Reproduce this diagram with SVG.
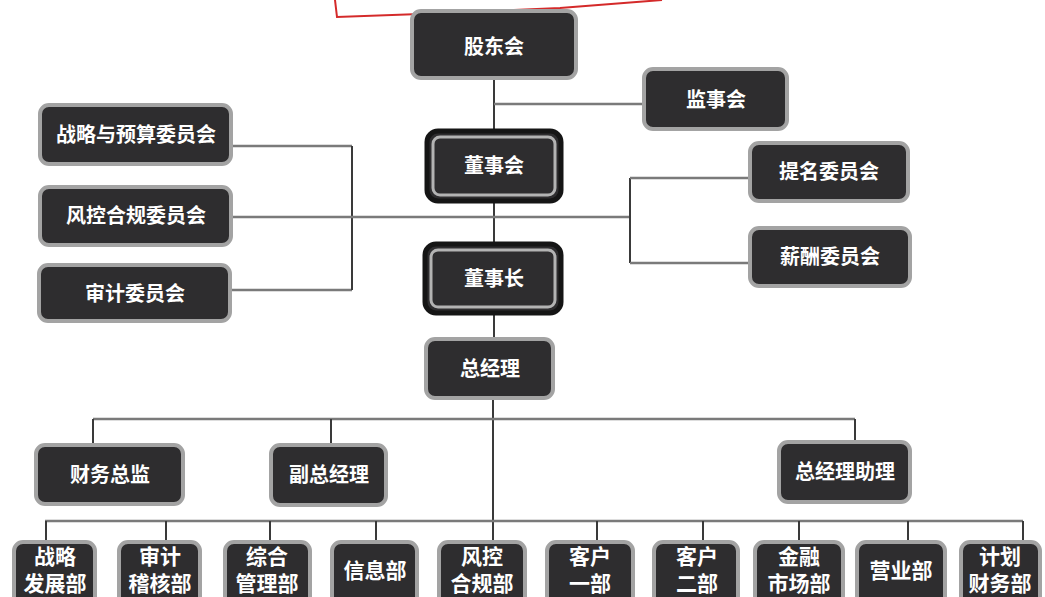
<svg xmlns="http://www.w3.org/2000/svg" width="1045" height="597" viewBox="0 0 1045 597">
<style>
.box{fill:#2e2d2f;stroke:#a3a3a3;stroke-width:4}
.outer{fill:#2e2d2f;stroke:#151515;stroke-width:5}
.inner{fill:#2e2d2f;stroke:#b3b3b3;stroke-width:3}
.t{fill:#ffffff;font-family:"Liberation Sans","Noto Sans CJK SC",sans-serif;font-weight:bold;font-size:20px;text-anchor:middle}
.s{fill:#ffffff;font-family:"Liberation Sans","Noto Sans CJK SC",sans-serif;font-weight:bold;font-size:21px;text-anchor:middle}
.h{stroke:#7a7a7a;stroke-width:2.5;fill:none}
.v{stroke:#3a3a3a;stroke-width:2;fill:none}
</style>
<path d="M335 0 L337 17 L420 14 L560 8 L662 0" fill="none" stroke="#d42a2a" stroke-width="2"/>
<g id="connectors">
<path class="v" d="M494 80 V129 M494 203 V242 M494 315 V337 M493 400 V540"/>
<path class="h" d="M494 104 H642"/>
<path class="h" d="M233 146 H352 M232 290 H352"/>
<path class="v" d="M352 146 V290"/>
<path class="h" d="M233 217 H630"/>
<path class="v" d="M630 178 V263"/>
<path class="h" d="M630 178 H748 M630 263 H748"/>
<path class="h" d="M93 419 H855"/>
<path class="v" d="M93 419 V443 M331 419 V443 M855 419 V440"/>
<path class="h" d="M45 521 H1023"/>
<path class="v" d="M46 521 V540 M166 521 V540 M270 521 V540 M376 521 V540 M597 521 V540 M703 521 V540 M799 521 V540 M908 521 V540 M1023 521 V540"/>
</g>
<g id="gudonghui"><rect class="box" x="412" y="11" width="164" height="67" rx="9"/><text class="t" x="494" y="54">股东会</text></g>
<g id="jianshihui"><rect class="box" x="644" y="69" width="143" height="60" rx="9"/><text class="t" x="716" y="107">监事会</text></g>
<g id="zhanlue"><rect class="box" x="40" y="105" width="191" height="59" rx="9"/><text class="t" x="136" y="142">战略与预算委员会</text></g>
<g id="fengkonghegui"><rect class="box" x="40" y="187" width="191" height="58" rx="9"/><text class="t" x="136" y="223">风控合规委员会</text></g>
<g id="shenji"><rect class="box" x="39" y="265" width="191" height="56" rx="9"/><text class="t" x="135" y="301">审计委员会</text></g>
<g id="dongshihui"><rect class="outer" x="427" y="131" width="134" height="70" rx="11"/><rect class="inner" x="433" y="137" width="122" height="58" rx="7"/><text class="t" x="494" y="173">董事会</text></g>
<g id="dongshizhang"><rect class="outer" x="425" y="244" width="136" height="69" rx="11"/><rect class="inner" x="431" y="250" width="124" height="57" rx="7"/><text class="t" x="494" y="286">董事长</text></g>
<g id="timing"><rect class="box" x="750" y="143" width="158" height="58" rx="9"/><text class="t" x="829" y="179">提名委员会</text></g>
<g id="xinchou"><rect class="box" x="750" y="228" width="160" height="58" rx="9"/><text class="t" x="830" y="264">薪酬委员会</text></g>
<g id="zongjingli"><rect class="box" x="426" y="339" width="127" height="59" rx="9"/><text class="t" x="490" y="376">总经理</text></g>
<g id="caiwuzongjian"><rect class="box" x="36" y="445" width="147" height="59" rx="9"/><text class="t" x="110" y="482">财务总监</text></g>
<g id="fuzongjingli"><rect class="box" x="271" y="445" width="115" height="60" rx="9"/><text class="t" x="329" y="482">副总经理</text></g>
<g id="zongjinglizhuli"><rect class="box" x="779" y="442" width="131" height="60" rx="9"/><text class="t" x="845" y="479">总经理助理</text></g>
<g id="d1"><rect class="box" x="14" y="542" width="81" height="64" rx="9"/><text class="s" x="55" y="564">战略</text><text class="s" x="55" y="591">发展部</text></g>
<g id="d2"><rect class="box" x="119" y="542" width="81" height="64" rx="9"/><text class="s" x="160" y="564">审计</text><text class="s" x="160" y="591">稽核部</text></g>
<g id="d3"><rect class="box" x="225" y="542" width="85" height="64" rx="9"/><text class="s" x="267" y="564">综合</text><text class="s" x="267" y="591">管理部</text></g>
<g id="d4"><rect class="box" x="332" y="542" width="85" height="64" rx="9"/><text class="s" x="375" y="578">信息部</text></g>
<g id="d5"><rect class="box" x="439" y="542" width="86" height="64" rx="9"/><text class="s" x="482" y="564">风控</text><text class="s" x="482" y="591">合规部</text></g>
<g id="d6"><rect class="box" x="547" y="542" width="86" height="64" rx="9"/><text class="s" x="590" y="564">客户</text><text class="s" x="590" y="591">一部</text></g>
<g id="d7"><rect class="box" x="654" y="542" width="84" height="64" rx="9"/><text class="s" x="697" y="564">客户</text><text class="s" x="697" y="591">二部</text></g>
<g id="d8"><rect class="box" x="755" y="542" width="88" height="64" rx="9"/><text class="s" x="799" y="564">金融</text><text class="s" x="799" y="591">市场部</text></g>
<g id="d9"><rect class="box" x="857" y="542" width="88" height="64" rx="9"/><text class="s" x="901" y="578">营业部</text></g>
<g id="d10"><rect class="box" x="961" y="542" width="79" height="64" rx="9"/><text class="s" x="1000" y="564">计划</text><text class="s" x="1000" y="591">财务部</text></g>
</svg>
